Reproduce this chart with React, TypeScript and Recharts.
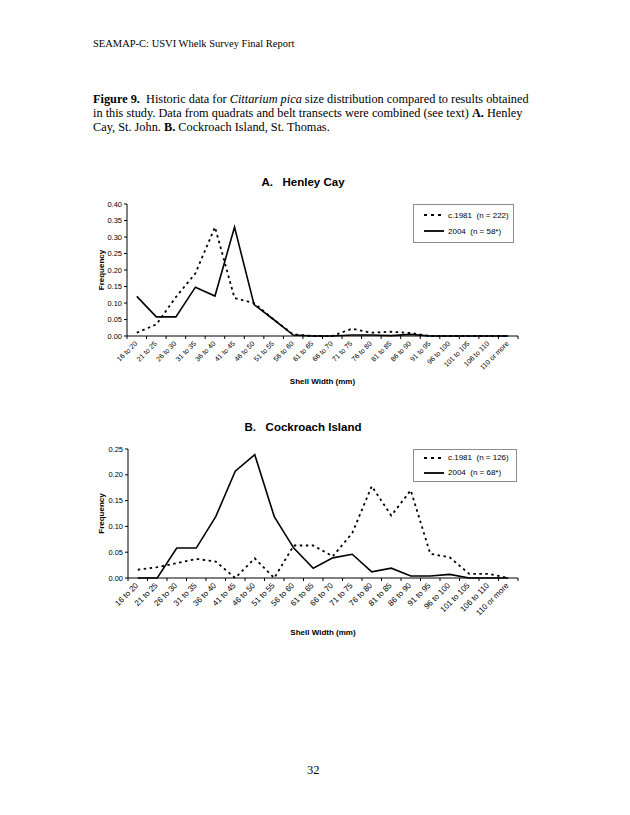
import { LineChart, Line, XAxis, YAxis, ReferenceArea, Legend } from 'recharts'

// size classes (mm) shared by both panels
const sizeClasses = [
  '16 to 20', '21 to 25', '26 to 30', '31 to 35', '36 to 40', '41 to 45', '46 to 50',
  '51 to 55', '56 to 60', '61 to 65', '66 to 70', '71 to 75', '76 to 80', '81 to 85',
  '86 to 90', '91 to 95', '96 to 100', '101 to 105', '106 to 110', '110 or more',
]

// A. Henley Cay
const henley1981 = [0.01, 0.035, 0.118, 0.19, 0.33, 0.115, 0.1, 0.05, 0.005, 0, 0, 0.022, 0.01, 0.013, 0.009, 0, 0, 0, 0, 0]
const henley2004 = [0.12, 0.058, 0.058, 0.148, 0.121, 0.33, 0.095, 0.05, 0.003, 0, 0, 0.003, 0.003, 0.001, 0.005, 0, 0, 0, 0, 0]
const henleyTicks = [0, 0.05, 0.1, 0.15, 0.2, 0.25, 0.3, 0.35, 0.4]

// B. Cockroach Island
const cockroach1981 = [0.016, 0.021, 0.029, 0.037, 0.032, 0, 0.038, 0, 0.063, 0.063, 0.042, 0.087, 0.178, 0.121, 0.17, 0.047, 0.04, 0.008, 0.008, 0]
const cockroach2004 = [0, 0, 0.058, 0.058, 0.119, 0.207, 0.239, 0.119, 0.058, 0.019, 0.039, 0.046, 0.012, 0.019, 0.004, 0.004, 0.007, 0, 0, 0]
const cockroachTicks = [0, 0.05, 0.1, 0.15, 0.2, 0.25]

const sans = 'Arial, "Liberation Sans", sans-serif'
const serif = '"Times New Roman", "Liberation Serif", serif'

function SizeTick(props: any) {
  const { x, y, payload, index, band, fontSize } = props
  const edge = x - band / 2
  const ax = x + 1
  const ay = y + 8
  return (
    <g>
      <line x1={edge} y1={y} x2={edge} y2={y + 3} stroke="#000" />
      {index === sizeClasses.length - 1 && (
        <line x1={edge + band} y1={y} x2={edge + band} y2={y + 3} stroke="#000" />
      )}
      <text
        x={ax}
        y={ay}
        transform={`rotate(-45 ${ax} ${ay})`}
        textAnchor="end"
        fontSize={fontSize}
        fontFamily={sans}
        fill="#000"
      >
        {payload.value}
      </text>
    </g>
  )
}

function SeriesKey({ rows, width, height, rowHeight, padTop }: any) {
  return (
    <div
      style={{
        width,
        height,
        boxSizing: 'border-box',
        border: '1px solid #8c8c8c',
        background: '#fff',
        paddingTop: padTop,
        fontFamily: sans,
        fontSize: 8,
        color: '#000',
      }}
    >
      {rows.map((r: any) => (
        <div key={r.label} style={{ height: rowHeight, display: 'flex', alignItems: 'center' }}>
          <svg width={34} height={4} style={{ display: 'block' }}>
            <line x1={10} y1={2} x2={30} y2={2} stroke="#000" strokeWidth={1.8} strokeDasharray={r.dash} />
          </svg>
          <span style={{ whiteSpace: 'pre' }}>{r.label}</span>
        </div>
      ))}
    </div>
  )
}

function Panel({ title, old, recent, ticks, oldLabel, recentLabel, box }: any) {
  const data = sizeClasses.map((c, i) => ({ size: c, old: old[i], recent: recent[i] }))
  const band = box.plotWidth / sizeClasses.length
  return (
    <div style={{ position: 'absolute', left: box.left, top: box.top - 26, width: box.width }}>
      <div
        style={{
          height: 26,
          textAlign: 'center',
          fontFamily: sans,
          fontWeight: 'bold',
          fontSize: 11.5,
          whiteSpace: 'pre',
          lineHeight: '26px',
          paddingRight: 10,
        }}
      >
        {title}
      </div>
      <LineChart
        width={box.width}
        height={box.height}
        data={data}
        margin={{ top: 9, right: 23, bottom: 0, left: 0 }}
      >
        <ReferenceArea fill="none" stroke="#8c8c8c" strokeWidth={1} />
        <XAxis
          dataKey="size"
          scale="band"
          interval={0}
          height={60}
          stroke="#000"
          tickLine={false}
          tickSize={0}
          tickMargin={0}
          tick={<SizeTick band={band} fontSize={box.xFont} />}
          label={{
            value: 'Shell Width (mm)',
            position: 'insideBottom',
            offset: box.xLabelOffset,
            style: { fontFamily: sans, fontWeight: 'bold', fontSize: 8, fill: '#000' },
          }}
        />
        <YAxis
          width={box.yWidth}
          domain={[0, ticks[ticks.length - 1]]}
          ticks={ticks}
          interval={0}
          stroke="#000"
          tickSize={3}
          tickMargin={2}
          tickFormatter={(v: number) => v.toFixed(2)}
          tick={{ fontSize: 7.5, fill: '#000', fontFamily: sans }}
          label={{
            value: 'Frequency',
            angle: -90,
            position: 'center',
            style: { fontFamily: sans, fontWeight: 'bold', fontSize: 8, fill: '#000' },
          }}
        />
        <Legend
          layout="horizontal"
          verticalAlign="middle"
          align="center"
          wrapperStyle={{ left: box.keyLeft, top: 9, width: box.keyWidth }}
          content={() => (
            <SeriesKey
              width={box.keyWidth}
              height={box.keyHeight}
              rowHeight={box.keyRow}
              padTop={box.keyPad}
              rows={[
                { label: oldLabel, dash: '3 4' },
                { label: recentLabel, dash: undefined },
              ]}
            />
          )}
        />
        <Line
          dataKey="old"
          type="linear"
          stroke="#000"
          strokeWidth={1.8}
          strokeDasharray="2.5 3.5"
          dot={false}
          isAnimationActive={false}
        />
        <Line
          dataKey="recent"
          type="linear"
          stroke="#000"
          strokeWidth={1.6}
          dot={false}
          isAnimationActive={false}
        />
      </LineChart>
    </div>
  )
}

export default function App() {
  return (
    <div
      style={{
        position: 'absolute',
        left: 0,
        top: 0,
        width: 630,
        height: 815,
        background: '#fff',
        fontFamily: serif,
        color: '#000',
      }}
    >
      <div style={{ position: 'absolute', left: 93, top: 38, fontSize: 10.5, whiteSpace: 'nowrap' }}>
        SEAMAP-C: USVI Whelk Survey Final Report
      </div>
      <div style={{ position: 'absolute', left: 93, top: 92, fontSize: 12.3, lineHeight: '14px', whiteSpace: 'pre' }}>
        <b>Figure 9.</b>{'  Historic data for '}<i>Cittarium pica</i>{' size distribution compared to results obtained'}
        <br />
        {'in this study. Data from quadrats and belt transects were combined (see text) '}<b>A.</b>{' Henley'}
        <br />
        {'Cay, St. John. '}<b>B.</b>{' Cockroach Island, St. Thomas.'}
      </div>

      <Panel
        title={'A.   Henley Cay'}
        old={henley1981}
        recent={henley2004}
        ticks={henleyTicks}
        oldLabel={'c.1981  (n = 222)'}
        recentLabel={'2004  (n = 58*)'}
        box={{
          left: 75, top: 195, width: 466, height: 201, plotWidth: 391, yWidth: 52,
          xFont: 7, xLabelOffset: 12, keyLeft: 338, keyWidth: 101, keyHeight: 39, keyRow: 16, keyPad: 2,
        }}
      />
      <Panel
        title={'B.   Cockroach Island'}
        old={cockroach1981}
        recent={cockroach2004}
        ticks={cockroachTicks}
        oldLabel={'c.1981  (n = 126)'}
        recentLabel={'2004  (n = 68*)'}
        box={{
          left: 75, top: 440, width: 466, height: 198, plotWidth: 390, yWidth: 53,
          xFont: 8, xLabelOffset: 3, keyLeft: 338, keyWidth: 104, keyHeight: 33, keyRow: 15, keyPad: 0,
        }}
      />

      <div style={{ position: 'absolute', left: 307, top: 763, fontSize: 12.5 }}>32</div>
    </div>
  )
}
